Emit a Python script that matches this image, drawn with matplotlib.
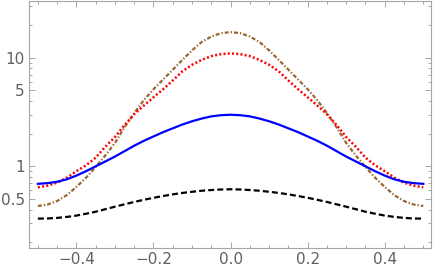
import numpy as np
import matplotlib
matplotlib.use("Agg")
import matplotlib.pyplot as plt
from matplotlib.ticker import FixedLocator, FixedFormatter, NullFormatter

# x sample positions
x = [-0.5, -0.475, -0.45, -0.425, -0.4, -0.375, -0.35, -0.325, -0.3, -0.275,
     -0.25, -0.225, -0.2, -0.175, -0.15, -0.125, -0.1, -0.075, -0.05, -0.025,
     0.0,
     0.025, 0.05, 0.075, 0.1, 0.125, 0.15, 0.175, 0.2, 0.225, 0.25,
     0.275, 0.3, 0.325, 0.35, 0.375, 0.4, 0.425, 0.45, 0.475, 0.5]

# values (log-scaled y)
blue = [0.690, 0.700, 0.721, 0.759, 0.822, 0.902, 1.000, 1.109, 1.230, 1.380,
        1.549, 1.718, 1.884, 2.065, 2.239, 2.427, 2.600, 2.754, 2.884, 2.958,
        2.985,
        2.958, 2.884, 2.754, 2.600, 2.427, 2.239, 2.065, 1.884, 1.718, 1.549,
        1.380, 1.230, 1.109, 1.000, 0.902, 0.822, 0.759, 0.721, 0.700, 0.690]
red = [0.641, 0.664, 0.708, 0.785, 0.902, 1.023, 1.202, 1.514, 1.862, 2.40,
       3.02, 3.63, 4.32, 5.13, 6.17, 7.50, 8.61, 9.55, 10.35, 10.79,
       10.96,
       10.79, 10.35, 9.55, 8.61, 7.50, 6.17, 5.13, 4.32, 3.63, 3.02,
       2.40, 1.862, 1.514, 1.202, 1.023, 0.902, 0.785, 0.708, 0.664, 0.641]
brown = [0.431, 0.445, 0.479, 0.543, 0.646, 0.785, 0.989, 1.259, 1.641, 2.29,
         3.09, 4.07, 5.13, 6.31, 7.76, 9.55, 11.69, 13.96, 15.67, 16.83,
         17.22,
         16.83, 15.67, 13.96, 11.69, 9.55, 7.76, 6.31, 5.13, 4.07, 3.09,
         2.29, 1.641, 1.259, 0.989, 0.785, 0.646, 0.543, 0.479, 0.445, 0.431]
black = [0.330, 0.331, 0.335, 0.342, 0.352, 0.366, 0.382, 0.403, 0.425, 0.447,
         0.470, 0.492, 0.513, 0.533, 0.552, 0.569, 0.583, 0.596, 0.605, 0.612,
         0.615,
         0.612, 0.605, 0.596, 0.583, 0.569, 0.552, 0.533, 0.513, 0.492, 0.470,
         0.447, 0.425, 0.403, 0.382, 0.366, 0.352, 0.342, 0.335, 0.331, 0.330]

yticks_major = [0.5, 1, 5, 10]
ytick_labels = ["0.5", "1", "5", "10"]
yticks_minor = [0.2, 0.3, 0.4, 0.6, 0.7, 0.8, 0.9, 2, 3, 4, 6, 7, 8, 9, 20, 30]
xticks_major = [-0.4, -0.2, 0.0, 0.2, 0.4]
xtick_labels = ["\u22120.4", "\u22120.2", "0.0", "0.2", "0.4"]
xticks_minor = [-0.5, -0.45, -0.35, -0.3, -0.25, -0.15, -0.1, -0.05,
                0.05, 0.1, 0.15, 0.25, 0.3, 0.35, 0.45, 0.5]

W, H = 436, 276
fig = plt.figure(figsize=(W / 100, H / 100), dpi=100)
ax = fig.add_axes([29 / W, (H - 248) / H, (431 - 29) / W, (248 - 1) / H])

ax.plot(x, black, color="black", lw=1.6, dashes=(2.7, 1.4))
ax.plot(x, brown, color="#996633", lw=1.6, dashes=(1.8, 0.9, 0.6, 0.9))
ax.plot(x, red, color="#ff0000", lw=1.8, dashes=(0.8, 0.9))
ax.plot(x, blue, color="#0000ff", lw=1.6)

ax.set_yscale("log")
ax.set_xlim(-0.523, 0.52)
ax.set_ylim(0.177, 33.3)

ax.yaxis.set_major_locator(FixedLocator(yticks_major))
ax.yaxis.set_major_formatter(FixedFormatter(ytick_labels))
ax.yaxis.set_minor_locator(FixedLocator(yticks_minor))
ax.yaxis.set_minor_formatter(NullFormatter())
ax.xaxis.set_major_locator(FixedLocator(xticks_major))
ax.xaxis.set_major_formatter(FixedFormatter(xtick_labels))
ax.xaxis.set_minor_locator(FixedLocator(xticks_minor))

for s in ax.spines.values():
    s.set_color("#a6a6a6")
    s.set_linewidth(0.8)

ax.tick_params(which="both", direction="in", top=True, right=True,
               color="#a6a6a6", width=0.7, labelcolor="#606060", labelsize=11)
ax.tick_params(which="major", length=4, pad=3)
ax.tick_params(which="minor", length=2.2)

fig.savefig("out.png", dpi=100)
